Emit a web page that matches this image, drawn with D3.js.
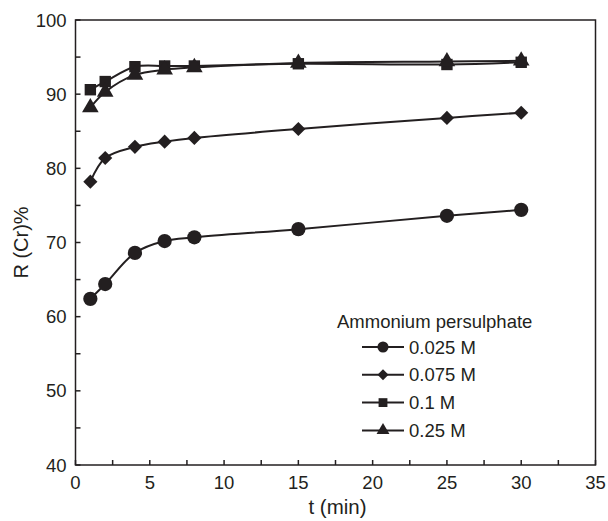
<!DOCTYPE html>
<html>
<head>
<meta charset="utf-8">
<script src="https://cdn.jsdelivr.net/npm/d3@7"></script>
<style>
  body { margin: 0; background: #fff; }
  svg text { font-family: "Liberation Sans", Arial, sans-serif; fill: #231f20; }
</style>
</head>
<body>
<svg id="chart" width="608" height="521"></svg>
<script>
// data
const times = [1, 2, 4, 6, 8, 15, 25, 30];
const seriesNames = ["0.025 M", "0.075 M", "0.1 M", "0.25 M"];
const r025 = [62.4, 64.4, 68.6, 70.2, 70.7, 71.8, 73.6, 74.4];
const r075 = [78.2, 81.4, 82.9, 83.6, 84.1, 85.3, 86.8, 87.5];
const r10 = [90.6, 91.7, 93.7, 93.8, 93.8, 94.1, 94.0, 94.3];
const r25 = [88.2, 90.3, 92.6, 93.3, 93.6, 94.2, 94.4, 94.5];
const xTicks = [0, 5, 10, 15, 20, 25, 30, 35];
const yTicks = [40, 50, 60, 70, 80, 90, 100];

const ink = "#231f20";
const svg = d3.select("#chart");
const plotL = 75.5, plotR = 595.5, plotT = 20, plotB = 465;

const x = d3.scaleLinear().domain([0, 35]).range([plotL, plotR]);
const y = d3.scaleLinear().domain([40, 100]).range([plotB, plotT]);

// frame
svg.append("rect")
  .attr("x", plotL).attr("y", plotT)
  .attr("width", plotR - plotL).attr("height", plotB - plotT)
  .attr("fill", "none").attr("stroke", ink).attr("stroke-width", 1.5);

// inward ticks, minor every half step
const xMinor = d3.range(0, 35.01, 2.5);
const yMinor = d3.range(40, 100.01, 5);
svg.append("g").selectAll("line").data(xMinor).join("line")
  .attr("x1", d => x(d)).attr("x2", d => x(d))
  .attr("y1", plotB).attr("y2", plotB - 5)
  .attr("stroke", ink).attr("stroke-width", 1.5);
svg.append("g").selectAll("line").data(yMinor).join("line")
  .attr("x1", plotL).attr("x2", plotL + 5)
  .attr("y1", d => y(d)).attr("y2", d => y(d))
  .attr("stroke", ink).attr("stroke-width", 1.5);

// tick labels
svg.append("g").selectAll("text").data(xTicks).join("text")
  .attr("x", d => x(d)).attr("y", plotB + 24)
  .attr("text-anchor", "middle").attr("font-size", 18.5)
  .text(d => d);
svg.append("g").selectAll("text").data(yTicks).join("text")
  .attr("x", plotL - 9).attr("y", d => y(d) + 6.5)
  .attr("text-anchor", "end").attr("font-size", 18.5)
  .text(d => d);

// axis titles
svg.append("text")
  .attr("x", (plotL + plotR) / 2 + 2).attr("y", 514)
  .attr("text-anchor", "middle").attr("font-size", 20.5)
  .text("t (min)");
svg.append("text")
  .attr("transform", "translate(28," + ((plotT + plotB) / 2) + ") rotate(-90)")
  .attr("text-anchor", "middle").attr("font-size", 20)
  .text("R (Cr)%");

// diamond = square turned 45 degrees
const symbols = [d3.symbolCircle, d3.symbolSquare, d3.symbolSquare, d3.symbolTriangle];
const turns = [0, 45, 0, 0];
const sizes = [160, 100, 130, 120];
const allSeries = [r025, r075, r10, r25];

const line = d3.line()
  .x((d, i) => x(times[i]))
  .y(d => y(d))
  .curve(d3.curveCatmullRom.alpha(0.5));

allSeries.forEach(function(vals, k) {
  svg.append("path")
    .attr("d", line(vals))
    .attr("fill", "none").attr("stroke", ink).attr("stroke-width", 2);
  svg.append("g").selectAll("path").data(vals).join("path")
    .attr("transform", (d, i) => "translate(" + x(times[i]) + "," + y(d) + ") rotate(" + turns[k] + ")")
    .attr("d", d3.symbol().type(symbols[k]).size(sizes[k]))
    .attr("fill", ink);
});

// legend
const lg = svg.append("g");
lg.append("text")
  .attr("x", 337).attr("y", 328).attr("font-size", 18.5)
  .text("Ammonium persulphate");
seriesNames.forEach(function(name, k) {
  const ly = 347 + k * 27.8;
  lg.append("line")
    .attr("x1", 362).attr("x2", 404).attr("y1", ly).attr("y2", ly)
    .attr("stroke", ink).attr("stroke-width", 2);
  lg.append("path")
    .attr("transform", "translate(383," + ly + ") rotate(" + turns[k] + ")")
    .attr("d", d3.symbol().type(symbols[k]).size(sizes[k] * 0.6))
    .attr("fill", ink);
  lg.append("text")
    .attr("x", 409).attr("y", ly + 6.5).attr("font-size", 18.5)
    .text(name);
});
</script>
</body>
</html>
